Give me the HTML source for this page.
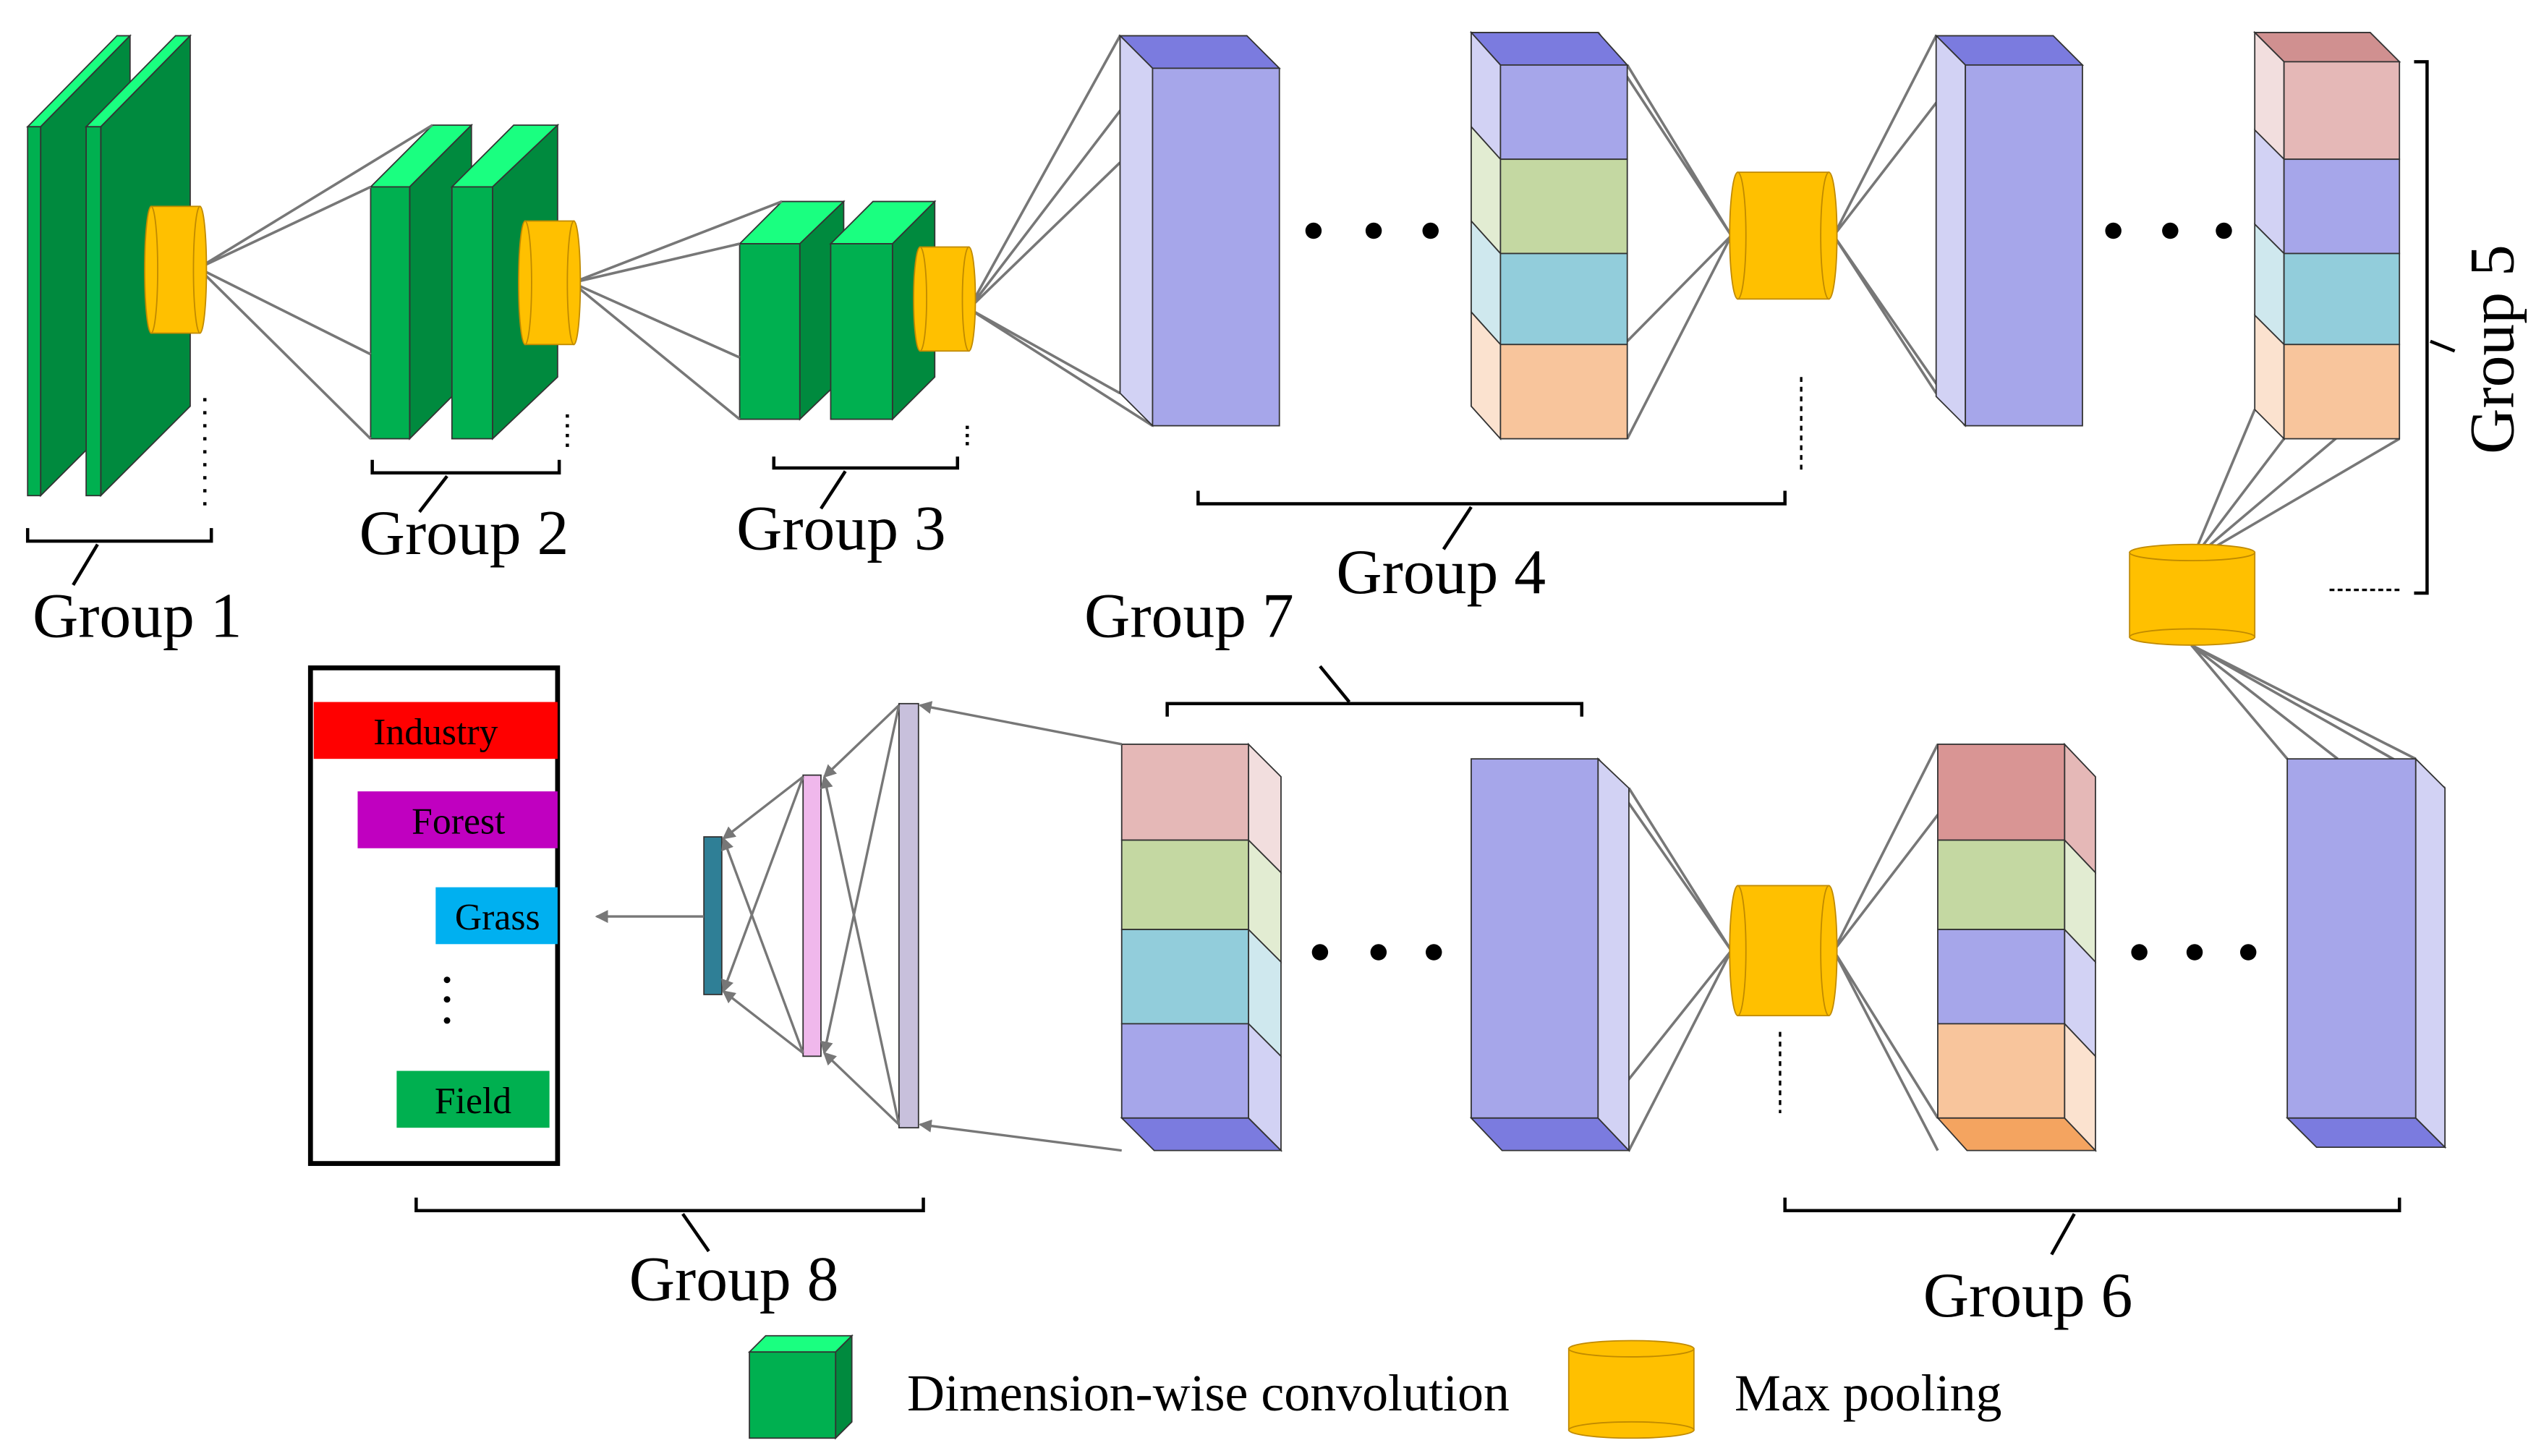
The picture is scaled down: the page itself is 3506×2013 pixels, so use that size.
<!DOCTYPE html>
<html><head><meta charset="utf-8"><style>
html,body{margin:0;padding:0;background:#fff;}
svg{display:block;}
text{font-family:"Liberation Serif",serif;}
</style></head><body>
<svg width="3506" height="2013" viewBox="0 0 1560 896" preserveAspectRatio="none" xmlns="http://www.w3.org/2000/svg">
<defs>
<marker id="ar" markerWidth="8" markerHeight="8" refX="7" refY="4" orient="auto" markerUnits="userSpaceOnUse"><path d="M0,0 L8,4 L0,8 z" fill="#777"/></marker>
</defs>
<rect width="1560" height="896" fill="#fff"/>
<g stroke="#333" stroke-width="0.8">
<polygon points="17,78 72,22 80,22 25,78" fill="#1aff80"/>
<polygon points="25,78 80,22 80,250 25,305" fill="#008a3e"/>
<rect x="17" y="78" width="8" height="227" fill="#00b050"/>
<polygon points="53,78 108,22 117,22 62,78" fill="#1aff80"/>
<polygon points="62,78 117,22 117,250 62,305" fill="#008a3e"/>
<rect x="53" y="78" width="9" height="227" fill="#00b050"/>
<polygon points="228,115 266,77 290,77 252,115" fill="#1aff80"/>
<polygon points="252,115 290,77 290,232 252,270" fill="#008a3e"/>
<rect x="228" y="115" width="24" height="155" fill="#00b050"/>
<polygon points="278,115 316,77 343,77 303,115" fill="#1aff80"/>
<polygon points="303,115 343,77 343,232 303,270" fill="#008a3e"/>
<rect x="278" y="115" width="25" height="155" fill="#00b050"/>
<polygon points="455,150 481,124 519,124 492,150" fill="#1aff80"/>
<polygon points="492,150 519,124 519,232 492,258" fill="#008a3e"/>
<rect x="455" y="150" width="37" height="108" fill="#00b050"/>
<polygon points="511,150 537,124 575,124 549,150" fill="#1aff80"/>
<polygon points="549,150 575,124 575,232 549,258" fill="#008a3e"/>
<rect x="511" y="150" width="38" height="108" fill="#00b050"/>
</g>
<g stroke="#777" stroke-width="1.6" fill="none">
<path d="M122,165 L228,115 M122,165 L228,270 M122,165 L266,77 M122,165 L228,218"/>
<path d="M352,174 L455,150 M352,174 L455,258 M352,174 L481,124 M352,174 L455,220"/>
<path d="M596,190 L689,22 M596,190 L689,242 M596,190 L709,42 M596,190 L709,262 M596,190 L689,100"/>
<path d="M1065,145 L1001,40 M1065,145 L1001,270 M1065,145 L983,20 M1065,145 L1001,210"/>
<path d="M1128,145 L1191,22 M1128,145 L1191,242 M1128,145 L1209,40 M1128,145 L1209,262"/>
<path d="M1348,345 L1405,270 M1348,345 L1387,252 M1348,345 L1476,270 M1348,345 L1458,252"/>
<path d="M1348,397 L1407,467 M1348,397 L1486,467 M1348,397 L1504,485 M1348,397 L1438,467"/>
<path d="M1128,585 L1192,458 M1128,585 L1192,708 M1128,585 L1210,478 M1128,585 L1192,688"/>
<path d="M1065,585 L983,467 M1065,585 L1002,485 M1065,585 L1002,708 M1065,585 L983,688"/>
</g>
<g stroke="#c08a00" stroke-width="0.8" fill="#ffc000">
<rect x="93" y="127" width="30" height="78"/><ellipse cx="93" cy="166" rx="4" ry="39"/><ellipse cx="123" cy="166" rx="4" ry="39"/>
<rect x="323" y="136" width="30" height="76"/><ellipse cx="323" cy="174" rx="4" ry="38"/><ellipse cx="353" cy="174" rx="4" ry="38"/>
<rect x="566" y="152" width="30" height="64"/><ellipse cx="566" cy="184" rx="4" ry="32"/><ellipse cx="596" cy="184" rx="4" ry="32"/>
<rect x="1069" y="106" width="56" height="78"/><ellipse cx="1069" cy="145" rx="5" ry="39"/><ellipse cx="1125" cy="145" rx="5" ry="39"/>
<rect x="1069" y="545" width="56" height="80"/><ellipse cx="1069" cy="585" rx="5" ry="40"/><ellipse cx="1125" cy="585" rx="5" ry="40"/>
<rect x="1310" y="340" width="77" height="52"/><ellipse cx="1348.5" cy="392" rx="38.5" ry="5"/><ellipse cx="1348.5" cy="340" rx="38.5" ry="5"/>
<rect x="965" y="830" width="77" height="50"/><ellipse cx="1003.5" cy="880" rx="38.5" ry="5"/><ellipse cx="1003.5" cy="830" rx="38.5" ry="5"/>
</g>
<g stroke="#333" stroke-width="0.8">
<polygon points="689,22 767,22 787,42 709,42" fill="#7b7bdf"/>
<polygon points="689,22 709,42 709,262 689,242" fill="#d2d2f4"/>
<rect x="709" y="42" width="78" height="220" fill="#a6a6ea"/>
<polygon points="905,20 983,20 1001,40 923,40" fill="#7b7bdf"/>
<polygon points="905,20 923,40 923,98 905,78" fill="#d2d2f4"/>
<polygon points="905,78 923,98 923,156 905,136" fill="#e2ecd2"/>
<polygon points="905,136 923,156 923,212 905,192" fill="#cfe8ee"/>
<polygon points="905,192 923,212 923,270 905,250" fill="#fbe2cf"/>
<rect x="923" y="40" width="78" height="58" fill="#a6a6ea"/>
<rect x="923" y="98" width="78" height="58" fill="#c4d8a2"/>
<rect x="923" y="156" width="78" height="56" fill="#92cddb"/>
<rect x="923" y="212" width="78" height="58" fill="#f8c59c"/>
<polygon points="1191,22 1263,22 1281,40 1209,40" fill="#7b7bdf"/>
<polygon points="1191,22 1209,40 1209,262 1191,244" fill="#d2d2f4"/>
<rect x="1209" y="40" width="72" height="222" fill="#a6a6ea"/>
<polygon points="1387,20 1458,20 1476,38 1405,38" fill="#d09090"/>
<polygon points="1387,20 1405,38 1405,98 1387,80" fill="#f2dede"/>
<polygon points="1387,80 1405,98 1405,156 1387,138" fill="#d2d2f4"/>
<polygon points="1387,138 1405,156 1405,212 1387,194" fill="#cfe8ee"/>
<polygon points="1387,194 1405,212 1405,270 1387,252" fill="#fbe2cf"/>
<rect x="1405" y="38" width="71" height="60" fill="#e5b8b7"/>
<rect x="1405" y="98" width="71" height="58" fill="#a6a6ea"/>
<rect x="1405" y="156" width="71" height="56" fill="#92cddb"/>
<rect x="1405" y="212" width="71" height="58" fill="#f8c59c"/>
<polygon points="690,688 768,688 788,708 710,708" fill="#7b7bdf"/>
<polygon points="768,458 788,478 788,537 768,517" fill="#f2dede"/>
<polygon points="768,517 788,537 788,592 768,572" fill="#e2ecd2"/>
<polygon points="768,572 788,592 788,650 768,630" fill="#cfe8ee"/>
<polygon points="768,630 788,650 788,708 768,688" fill="#d2d2f4"/>
<rect x="690" y="458" width="78" height="59" fill="#e5b8b7"/>
<rect x="690" y="517" width="78" height="55" fill="#c4d8a2"/>
<rect x="690" y="572" width="78" height="58" fill="#92cddb"/>
<rect x="690" y="630" width="78" height="58" fill="#a6a6ea"/>
<polygon points="905,688 983,688 1002,708 924,708" fill="#7b7bdf"/>
<polygon points="983,467 1002,485 1002,708 983,688" fill="#d2d2f4"/>
<rect x="905" y="467" width="78" height="221" fill="#a6a6ea"/>
<polygon points="1192,688 1270,688 1289,708 1210,708" fill="#f4a460"/>
<polygon points="1270,458 1289,478 1289,537 1270,517" fill="#e5b8b7"/>
<polygon points="1270,517 1289,537 1289,592 1270,572" fill="#e2ecd2"/>
<polygon points="1270,572 1289,592 1289,650 1270,630" fill="#d2d2f4"/>
<polygon points="1270,630 1289,650 1289,708 1270,688" fill="#fbe2cf"/>
<rect x="1192" y="458" width="78" height="59" fill="#d99594"/>
<rect x="1192" y="517" width="78" height="55" fill="#c4d8a2"/>
<rect x="1192" y="572" width="78" height="58" fill="#a6a6ea"/>
<rect x="1192" y="630" width="78" height="58" fill="#f8c59c"/>
<polygon points="1407,688 1486,688 1504,706 1425,706" fill="#7b7bdf"/>
<polygon points="1486,467 1504,485 1504,706 1486,688" fill="#d2d2f4"/>
<rect x="1407" y="467" width="79" height="221" fill="#a6a6ea"/>
<rect x="553" y="433" width="12" height="261" fill="#c8c0dc"/>
<rect x="494" y="477" width="11" height="173" fill="#f0b8ec"/>
<rect x="433" y="515" width="11" height="97" fill="#2f7f96"/>
<polygon points="461,832 471,822 524,822 514,832" fill="#1aff80"/>
<polygon points="514,832 524,822 524,875 514,885" fill="#008a3e"/>
<rect x="461" y="832" width="53" height="53" fill="#00b050"/>
</g>
<g stroke="#777" stroke-width="1.5" fill="none" marker-end="url(#ar)">
<path d="M690,458 L566,434"/><path d="M690,708 L566,692"/>
<path d="M553,434 L507,478"/><path d="M553,434 L507,648"/><path d="M553,692 L507,478"/><path d="M553,692 L507,648"/>
<path d="M494,478 L445,516"/><path d="M494,478 L445,610"/><path d="M494,648 L445,516"/><path d="M494,648 L445,610"/>
<path d="M433,564 L367,564"/>
</g>
<g fill="#000">
<circle cx="808" cy="142" r="5"/><circle cx="845" cy="142" r="5"/><circle cx="880" cy="142" r="5"/>
<circle cx="1300" cy="142" r="5"/><circle cx="1335" cy="142" r="5"/><circle cx="1368" cy="142" r="5"/>
<circle cx="812" cy="586" r="5"/><circle cx="848" cy="586" r="5"/><circle cx="882" cy="586" r="5"/>
<circle cx="1316" cy="586" r="5"/><circle cx="1350" cy="586" r="5"/><circle cx="1383" cy="586" r="5"/>
<circle cx="275" cy="603" r="2"/><circle cx="275" cy="615" r="2"/><circle cx="275" cy="628" r="2"/>
</g>
<g stroke="#000" stroke-width="2" fill="none">
<path d="M126,245 V312" stroke-dasharray="2,6"/>
<path d="M349,255 V277" stroke-dasharray="2,4"/>
<path d="M595,262 V274" stroke-dasharray="2,3"/>
<path d="M1108,232 V292" stroke-dasharray="3,3" stroke-width="1.5"/>
<path d="M1095,635 V685" stroke-dasharray="3,3" stroke-width="1.5"/>
<path d="M1433,363 H1478" stroke-dasharray="3,2" stroke-width="1.5"/>
<path d="M17,325 V333 H130 V325"/><path d="M60,335 L45,360"/>
<path d="M229,283 V291 H344 V283"/><path d="M275,293 L258,315"/>
<path d="M476,281 V288 H589 V281"/><path d="M520,290 L505,313"/>
<path d="M737,302 V310 H1098 V302"/><path d="M905,312 L888,338"/>
<path d="M1485,38 H1493 V365 H1485"/><path d="M1495,210 L1510,216"/>
<path d="M718,441 V433 H973 V441"/><path d="M812,410 L830,432"/>
<path d="M1098,737 V745 H1476 V737"/><path d="M1276,747 L1262,772"/>
<path d="M256,737 V745 H568 V737"/><path d="M420,747 L436,770"/>
</g>
<rect x="191" y="411" width="152" height="305" fill="none" stroke="#000" stroke-width="3"/>
<rect x="193" y="432" width="150" height="35" fill="#ff0000"/>
<rect x="220" y="487" width="123" height="35" fill="#c000c0"/>
<rect x="268" y="546" width="75" height="35" fill="#00b0f0"/>
<rect x="244" y="659" width="94" height="35" fill="#00b050"/>
<g font-size="23" fill="#000" text-anchor="middle">
<text x="268" y="458">Industry</text>
<text x="282" y="513">Forest</text>
<text x="306" y="572">Grass</text>
<text x="291" y="685">Field</text>
</g>
<g font-size="39" fill="#000">
<text x="20" y="392">Group 1</text>
<text x="221" y="341">Group 2</text>
<text x="453" y="338">Group 3</text>
<text x="822" y="365">Group 4</text>
<text x="667" y="392">Group 7</text>
<text x="1183" y="810">Group 6</text>
<text x="387" y="800">Group 8</text>
<text transform="translate(1546,215) rotate(-90)" text-anchor="middle">Group 5</text>
</g>
<g font-size="32" fill="#000">
<text x="558" y="868">Dimension-wise convolution</text>
<text x="1067" y="868">Max pooling</text>
</g>
</svg>
</body></html>
